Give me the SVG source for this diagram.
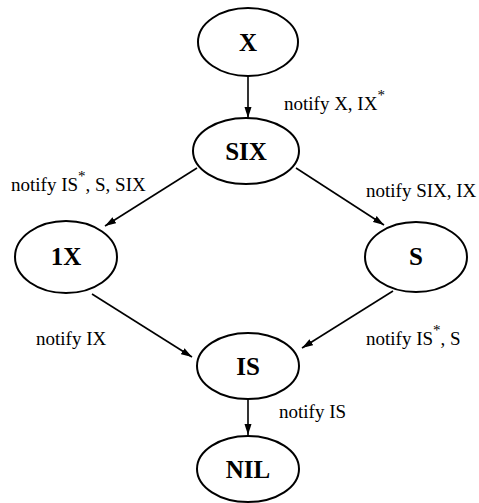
<svg xmlns="http://www.w3.org/2000/svg" width="479" height="503" viewBox="0 0 479 503">
<defs>
<marker id="ah" viewBox="0 0 11 8" refX="11" refY="4" markerWidth="11" markerHeight="8" markerUnits="userSpaceOnUse" orient="auto">
<path d="M0,0.5 L11,4 L0,7.5 z" fill="#000"/>
</marker>
<style>
.node ellipse{fill:#fff;stroke:#000;stroke-width:2}
.node text{font-family:"Liberation Serif","Times New Roman",serif;font-weight:bold;font-size:25px;text-anchor:middle}
.lbl{font-family:"Liberation Serif","Times New Roman",serif;font-size:19px}
.sup{font-size:15px}
#edges line{stroke:#000;stroke-width:1.6;marker-end:url(#ah)}
</style>
</defs>
<rect width="479" height="503" fill="#fff"/>
<g id="edges">
<line x1="248" y1="76" x2="248" y2="118"/>
<line x1="197" y1="168" x2="105" y2="226"/>
<line x1="296" y1="168" x2="384" y2="225"/>
<line x1="92" y1="294" x2="192" y2="357"/>
<line x1="393" y1="291" x2="302" y2="348"/>
<line x1="248" y1="399" x2="248" y2="435"/>
<text class="lbl" x="284" y="110">notify X, IX<tspan class="sup" dy="-10">*</tspan></text>
<text class="lbl" x="11" y="191">notify IS<tspan class="sup" dy="-10">*</tspan><tspan dy="10">, S, SIX</tspan></text>
<text class="lbl" x="366" y="197">notify SIX, IX</text>
<text class="lbl" x="36" y="345">notify IX</text>
<text class="lbl" x="366" y="345">notify IS<tspan class="sup" dy="-10">*</tspan><tspan dy="10">, S</tspan></text>
<text class="lbl" x="279" y="418">notify IS</text>
</g>
<g id="X" class="node"><ellipse cx="248" cy="42" rx="50" ry="34"/><text x="248" y="51">X</text></g>
<g id="SIX" class="node"><ellipse cx="246" cy="151" rx="53" ry="33"/><text x="246" y="160">SIX</text></g>
<g id="1X" class="node"><ellipse cx="66" cy="257" rx="51" ry="36"/><text x="66" y="265">1X</text></g>
<g id="S" class="node"><ellipse cx="416" cy="257" rx="51" ry="35"/><text x="416" y="265">S</text></g>
<g id="IS" class="node"><ellipse cx="248" cy="366" rx="51" ry="33"/><text x="248" y="375">IS</text></g>
<g id="NIL" class="node"><ellipse cx="248" cy="469" rx="51" ry="33"/><text x="248" y="478">NIL</text></g>
</svg>
